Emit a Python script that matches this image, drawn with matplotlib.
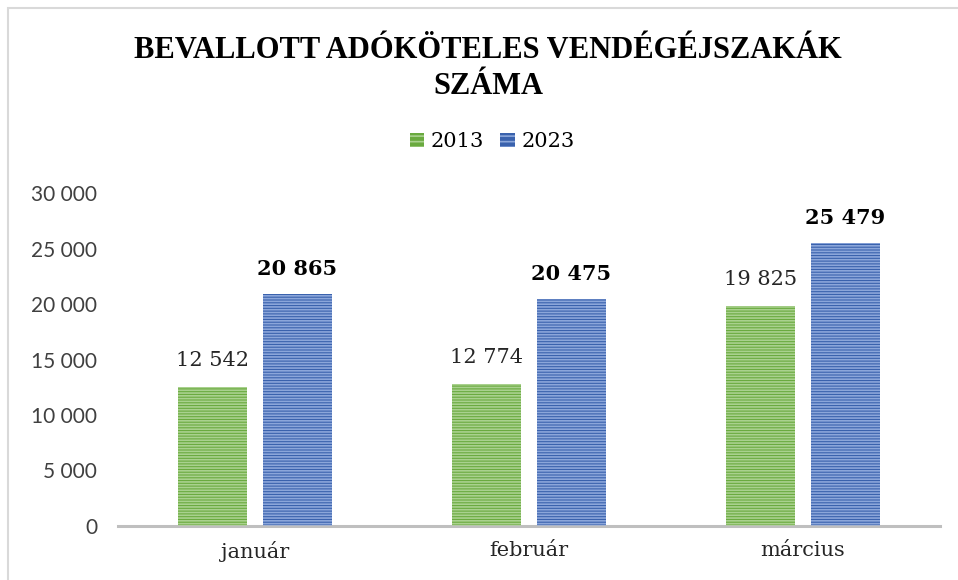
import matplotlib
matplotlib.use("Agg")
import matplotlib.pyplot as plt
from matplotlib.patches import Rectangle
import numpy as np

# data
months = ["január", "február", "március"]
series_names = ["2013", "2023"]
values_2013 = [12542, 12774, 19825]
values_2023 = [20865, 20475, 25479]
y_ticks = [0, 5000, 10000, 15000, 20000, 25000, 30000]

GREEN = "#6AAA3F"
GREEN_STRIPE = "#A9D18E"
BLUE = "#3A62AD"
BLUE_STRIPE = "#8BA6DA"
SERIF = "DejaVu Serif"
TITLE_FONT = "Liberation Serif"
SANS = "Lato"

plt.rcParams["hatch.linewidth"] = 1.2


def fmt(v):
    return f"{v:,}".replace(",", " ")


fig = plt.figure(figsize=(9.58, 5.80), dpi=100)
fig.patch.set_facecolor("white")

# chart-area border (only top and left visible in the crop)
fig.patches.append(Rectangle((8 / 958, -0.05), 1.2, 1 - 8 / 580 + 0.05,
                             transform=fig.transFigure, fill=False,
                             edgecolor="#D9D9D9", linewidth=1.5))

ax = fig.add_axes([118 / 958, 1 - 526 / 580, (940 - 118) / 958, (526 - 193) / 580])

x = np.arange(len(months))
width = 0.255
offset = 0.155

for vals, color, stripe, off in [(values_2013, GREEN, GREEN_STRIPE, -offset),
                                 (values_2023, BLUE, BLUE_STRIPE, offset)]:
    ax.bar(x + off, vals, width, color=color, edgecolor="none", zorder=2)
    ax.bar(x + off, vals, width, fill=False, hatch="------", edgecolor=stripe,
           linewidth=0, zorder=3)

for xi, v in zip(x, values_2013):
    ax.annotate(fmt(v), (xi - offset, v), xytext=(0, 19), textcoords="offset points",
                ha="center", va="center", fontsize=15, family=SERIF, color="#262626")
for xi, v in zip(x, values_2023):
    ax.annotate(fmt(v), (xi + offset, v), xytext=(0, 18), textcoords="offset points",
                ha="center", va="center", fontsize=15, fontweight="bold",
                family=SERIF, color="black")

ax.set_xlim(-0.5, 2.5)
ax.set_ylim(0, 30000)
ax.set_yticks(y_ticks)
ax.set_yticklabels([fmt(t) for t in y_ticks], family=SANS, fontsize=15, color="#404040")
ax.set_xticks(x)
ax.set_xticklabels(months, family=SERIF, fontsize=15, color="#262626")
ax.tick_params(axis="y", length=0, pad=15)
ax.tick_params(axis="x", length=0, pad=11)
for s in ["top", "right", "left"]:
    ax.spines[s].set_visible(False)
ax.spines["bottom"].set_color("#BFBFBF")
ax.spines["bottom"].set_linewidth(2.2)

# title
fig.text(488 / 958, 1 - 51 / 580, "BEVALLOTT ADÓKÖTELES VENDÉGÉJSZAKÁK",
         ha="center", va="center", family=TITLE_FONT, fontweight="bold", fontsize=22)
fig.text(488 / 958, 1 - 86 / 580, "SZÁMA",
         ha="center", va="center", family=TITLE_FONT, fontweight="bold", fontsize=22)

# legend
handles = [Rectangle((0, 0), 1, 1, facecolor=GREEN, hatch="---", edgecolor=GREEN_STRIPE, linewidth=0),
           Rectangle((0, 0), 1, 1, facecolor=BLUE, hatch="---", edgecolor=BLUE_STRIPE, linewidth=0)]
fig.legend(handles, series_names, loc="center", bbox_to_anchor=(492 / 958, 1 - 142 / 580),
           ncol=2, frameon=False, prop={"family": SERIF, "size": 15},
           handlelength=0.7, handleheight=0.7, handletextpad=0.3, columnspacing=0.8)

fig.savefig("out.png", dpi=100)
